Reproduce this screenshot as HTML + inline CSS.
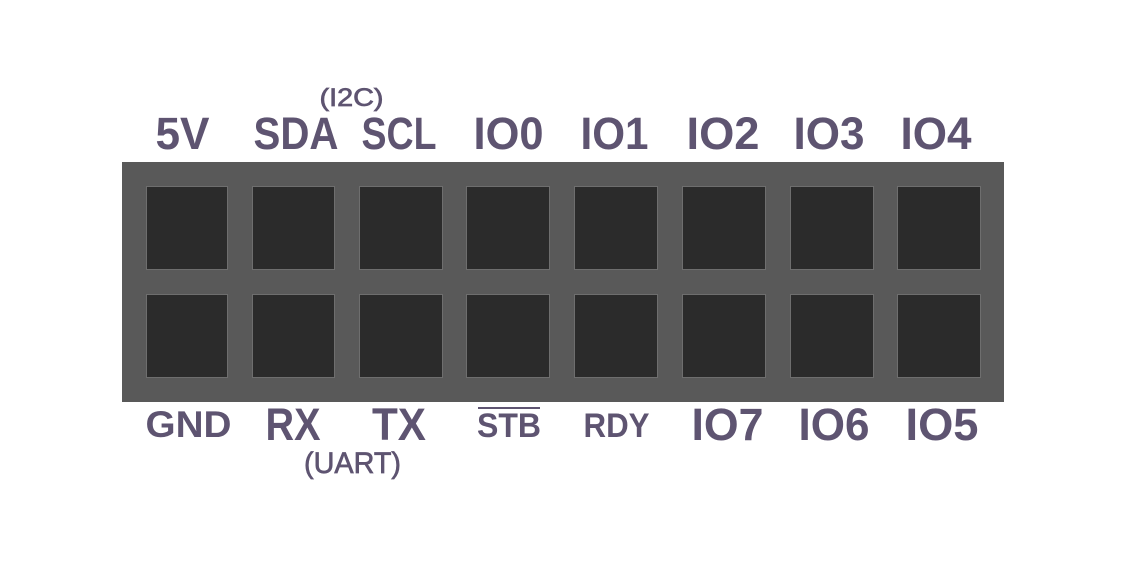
<!DOCTYPE html>
<html>
<head>
<meta charset="utf-8">
<style>
  html,body{margin:0;padding:0;background:#ffffff;}
  svg{display:block;}
  text{font-family:"Liberation Sans",sans-serif;font-weight:bold;fill:#5e5471;}
  .thin{font-weight:normal;stroke:#5e5471;stroke-width:0.7px;}
</style>
</head>
<body>
<svg width="1139" height="569" viewBox="0 0 1139 569" xmlns="http://www.w3.org/2000/svg">
  <rect x="0" y="0" width="1139" height="569" fill="#ffffff"/>
  <!-- board -->
  <rect x="122" y="162" width="882" height="240" fill="#595959"/>
  <!-- top row pins -->
  <g fill="#2b2b2b" stroke="#6e6e6e" stroke-width="1">
    <rect x="146.5" y="186.5" width="81" height="83"/>
    <rect x="252.5" y="186.5" width="82" height="83"/>
    <rect x="359.5" y="186.5" width="83" height="83"/>
    <rect x="466.5" y="186.5" width="83" height="83"/>
    <rect x="574.5" y="186.5" width="83" height="83"/>
    <rect x="682.5" y="186.5" width="83" height="83"/>
    <rect x="790.5" y="186.5" width="83" height="83"/>
    <rect x="897.5" y="186.5" width="83" height="83"/>
    <!-- bottom row -->
    <rect x="146.5" y="294.5" width="81" height="83"/>
    <rect x="252.5" y="294.5" width="82" height="83"/>
    <rect x="359.5" y="294.5" width="83" height="83"/>
    <rect x="466.5" y="294.5" width="83" height="83"/>
    <rect x="574.5" y="294.5" width="83" height="83"/>
    <rect x="682.5" y="294.5" width="83" height="83"/>
    <rect x="790.5" y="294.5" width="83" height="83"/>
    <rect x="897.5" y="294.5" width="83" height="83"/>
  </g>

  <!-- top labels -->
  <text class="thin" x="351.5" y="106" font-size="25" text-anchor="middle" textLength="64" lengthAdjust="spacingAndGlyphs">(I2C)</text>
  <text x="182.5" y="149" font-size="45" text-anchor="middle" textLength="54" lengthAdjust="spacingAndGlyphs">5V</text>
  <text x="296" y="149" font-size="45" text-anchor="middle" textLength="85" lengthAdjust="spacingAndGlyphs">SDA</text>
  <text x="399" y="149" font-size="45" text-anchor="middle" textLength="75" lengthAdjust="spacingAndGlyphs">SCL</text>
  <text x="508.5" y="149" font-size="45" text-anchor="middle" textLength="70" lengthAdjust="spacingAndGlyphs">IO0</text>
  <text x="614.5" y="149" font-size="45" text-anchor="middle" textLength="68" lengthAdjust="spacingAndGlyphs">IO1</text>
  <text x="723" y="149" font-size="45" text-anchor="middle" textLength="73" lengthAdjust="spacingAndGlyphs">IO2</text>
  <text x="829" y="149" font-size="45" text-anchor="middle" textLength="71" lengthAdjust="spacingAndGlyphs">IO3</text>
  <text x="936" y="149" font-size="45" text-anchor="middle" textLength="71" lengthAdjust="spacingAndGlyphs">IO4</text>

  <!-- bottom labels -->
  <text x="188.5" y="437" font-size="37" text-anchor="middle" textLength="86" lengthAdjust="spacingAndGlyphs">GND</text>
  <text x="293" y="440" font-size="45" text-anchor="middle" textLength="55" lengthAdjust="spacingAndGlyphs">RX</text>
  <text x="399" y="440" font-size="45" text-anchor="middle" textLength="54" lengthAdjust="spacingAndGlyphs">TX</text>
  <rect x="478" y="407" width="62" height="2" fill="#5e5471"/>
  <text x="509" y="437" font-size="34" text-anchor="middle" textLength="64" lengthAdjust="spacingAndGlyphs">STB</text>
  <text x="616.5" y="437" font-size="34" text-anchor="middle" textLength="66" lengthAdjust="spacingAndGlyphs">RDY</text>
  <text x="727.5" y="440" font-size="45" text-anchor="middle" textLength="72" lengthAdjust="spacingAndGlyphs">IO7</text>
  <text x="834" y="440" font-size="45" text-anchor="middle" textLength="71" lengthAdjust="spacingAndGlyphs">IO6</text>
  <text x="942" y="440" font-size="45" text-anchor="middle" textLength="73" lengthAdjust="spacingAndGlyphs">IO5</text>
  <text class="thin" x="352.5" y="473" font-size="30" text-anchor="middle" textLength="97" lengthAdjust="spacingAndGlyphs">(UART)</text>
</svg>
</body>
</html>
